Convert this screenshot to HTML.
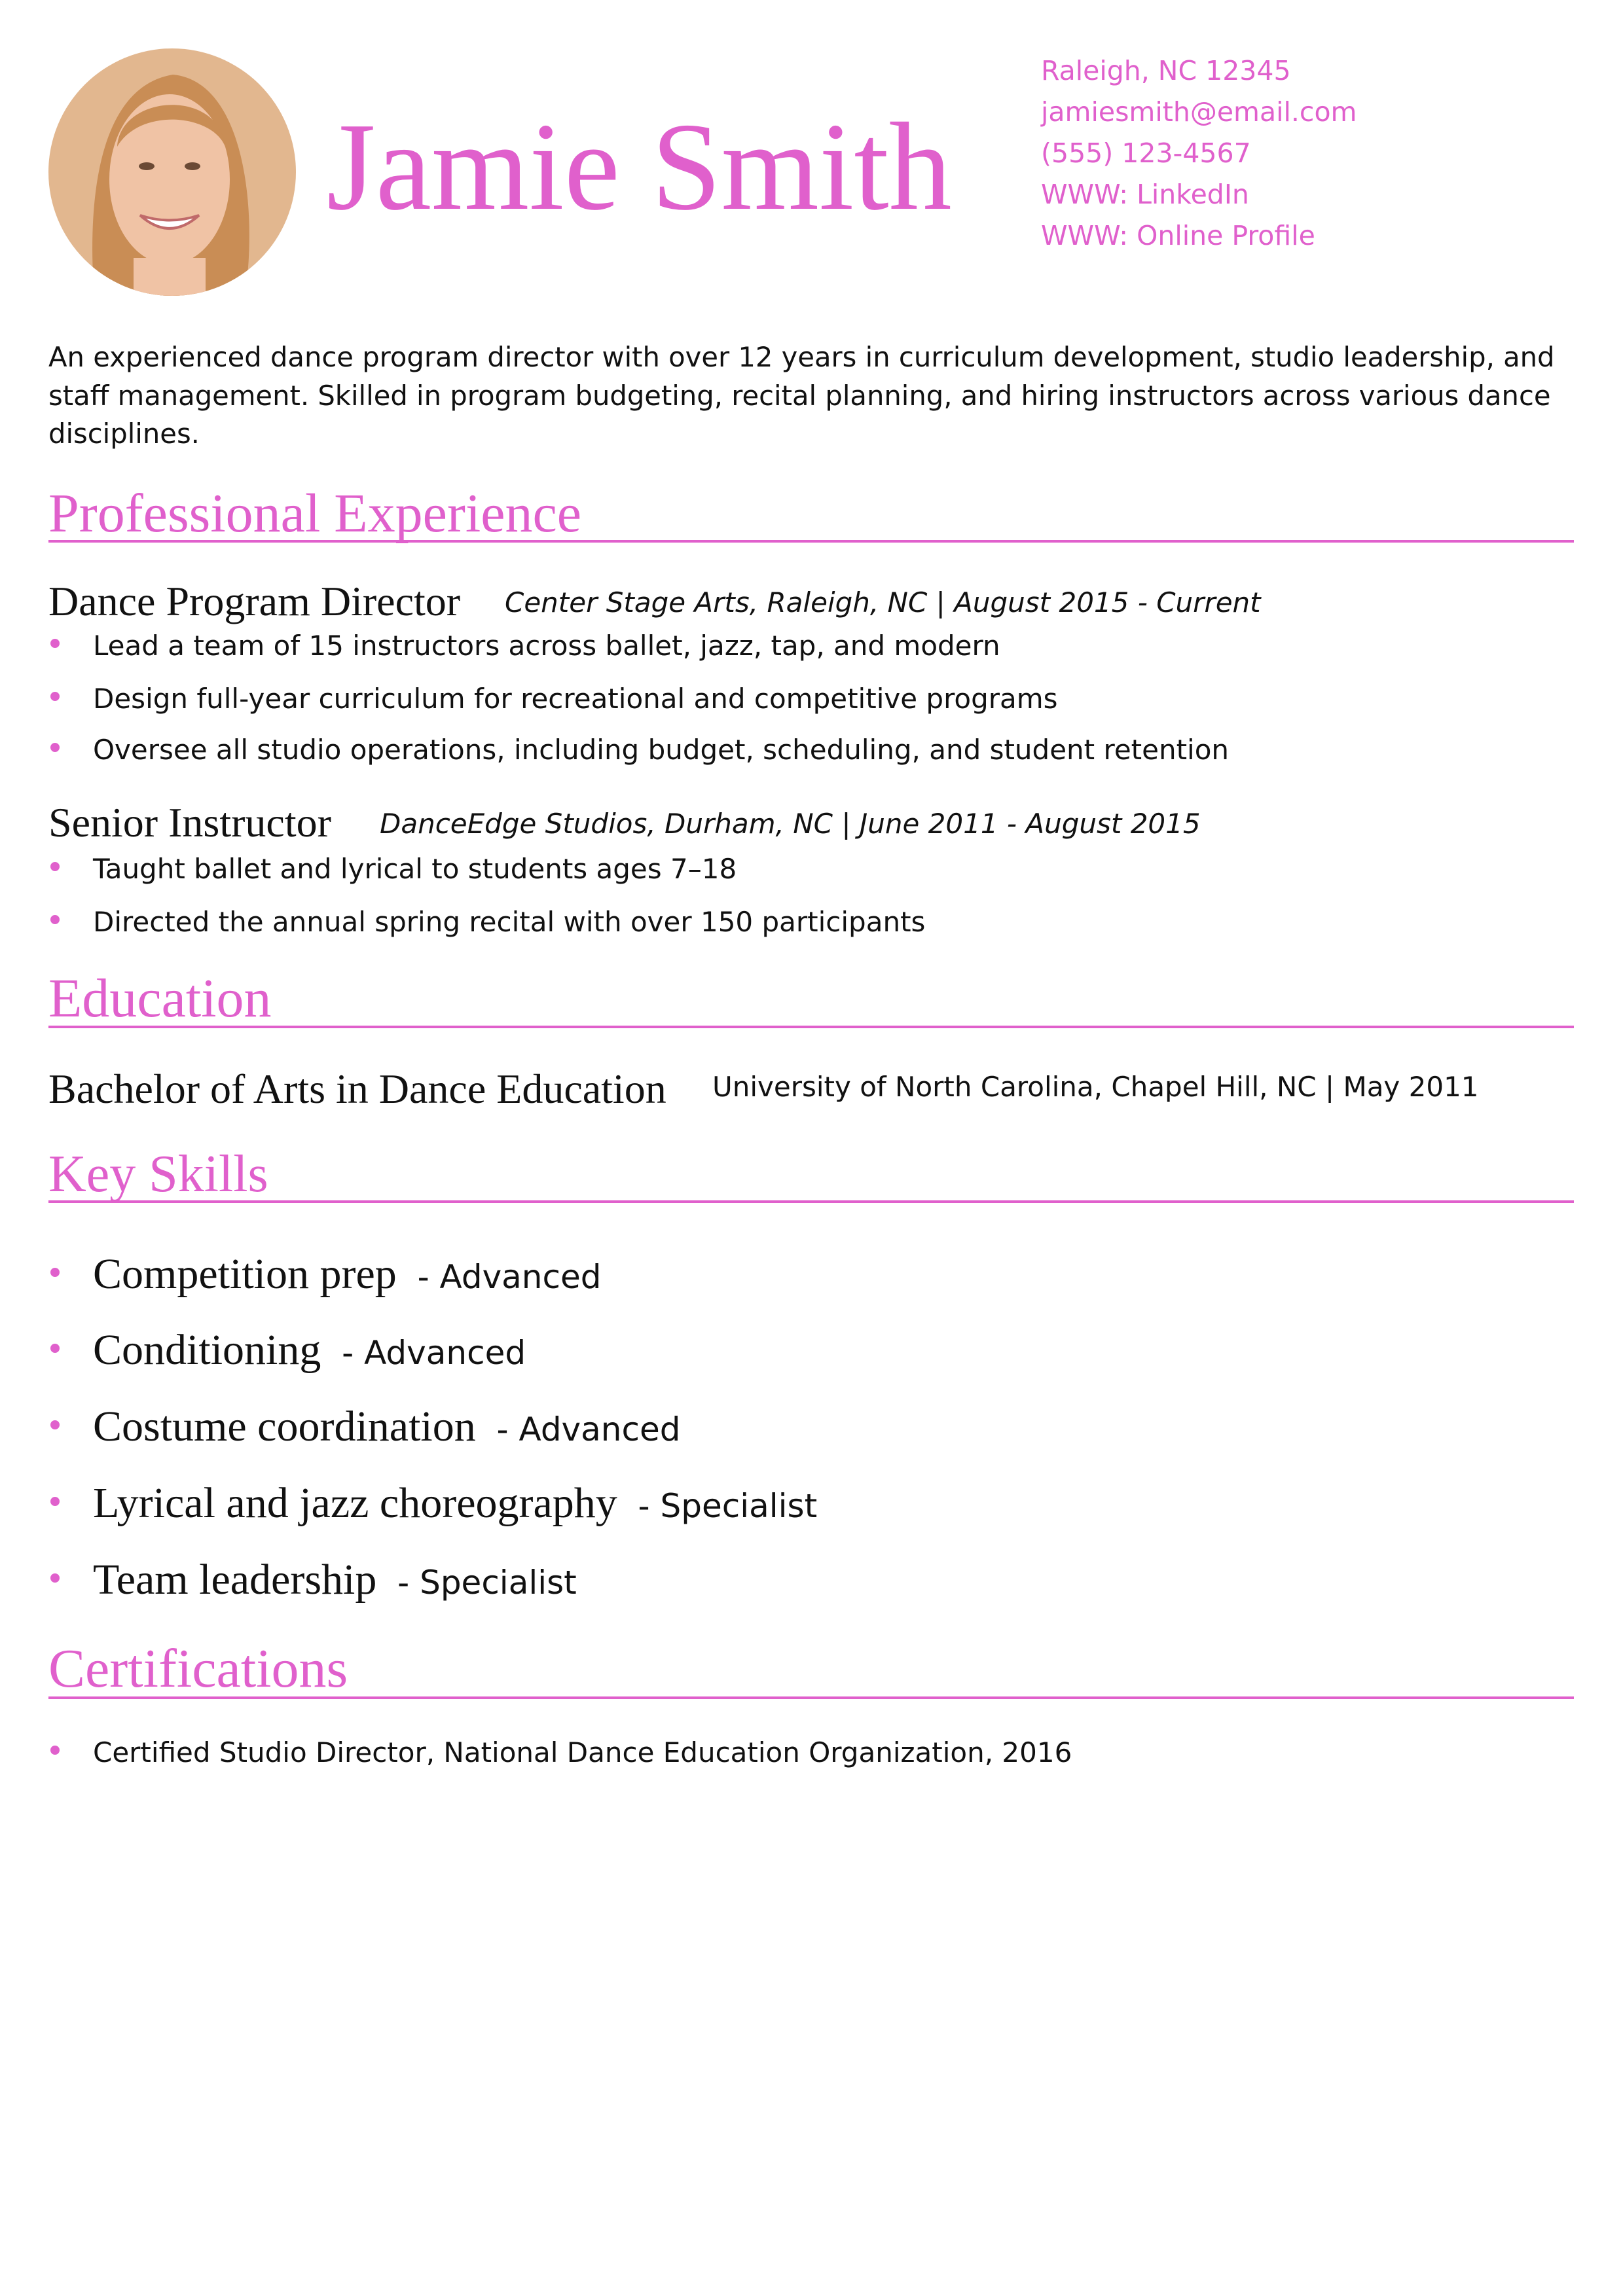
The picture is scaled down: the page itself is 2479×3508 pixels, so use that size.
<!DOCTYPE html>
<html><head><meta charset="utf-8"><style>
body{margin:0;width:2479px;height:3508px;background:#fff;position:relative;overflow:hidden}
div{position:absolute;white-space:nowrap}
.s{font-family:"DejaVu Sans","Liberation Sans",sans-serif;color:#111}
.f{font-family:"Liberation Serif",serif;color:#111}
.p{color:#e060cc}
.h{font-family:"Liberation Serif",serif;color:#e060cc;font-size:84px;left:74px;height:100px;line-height:100px}
.r{left:74px;width:2338px;height:4px;background:#e060cc}
.d{width:14px;height:14px;border-radius:50%;background:#e060cc;left:77px}
.b{left:142px;font-size:42px;height:60px;line-height:60px}
.c{left:1596px;font-size:41px;height:60px;line-height:60px}
</style></head><body>
<svg style="position:absolute;left:74px;top:74px" width="378" height="378">
<defs><clipPath id="cc"><circle cx="189" cy="189" r="189"/></clipPath></defs>
<g clip-path="url(#cc)">
<rect width="378" height="378" fill="#e2b78f"/>
<path d="M70 378 C60 250 70 60 190 40 C300 50 320 250 300 378Z" fill="#c98d55"/>
<ellipse cx="185" cy="200" rx="92" ry="130" fill="#f0c3a5"/>
<path d="M105 150 C110 70 260 60 270 150 C250 100 140 90 105 150Z" fill="#c98d55"/>
<ellipse cx="150" cy="180" rx="12" ry="6" fill="#6b4a35"/>
<ellipse cx="220" cy="180" rx="12" ry="6" fill="#6b4a35"/>
<path d="M140 255 Q185 295 230 255 Q185 270 140 255Z" fill="#fff" stroke="#c06a6a" stroke-width="4"/>
<rect x="130" y="320" width="110" height="60" fill="#f0c3a5"/>
</g></svg>
<div class="p" style="left:499px;top:145px;font-family:'Liberation Serif',serif;font-size:192px;line-height:220px;height:220px">Jamie Smith</div>
<div class="s p c" style="top:78px;left:1590px">Raleigh, NC 12345</div>
<div class="s p c" style="top:141px;left:1590px">jamiesmith@email.com</div>
<div class="s p c" style="top:204px;left:1590px">(555) 123-4567</div>
<div class="s p c" style="top:267px;left:1590px">WWW: LinkedIn</div>
<div class="s p c" style="top:330px;left:1590px">WWW: Online Profile</div>

<div class="s" style="left:74px;top:517px;font-size:41.7px;line-height:58.5px">An experienced dance program director with over 12 years in curriculum development, studio leadership, and<br>staff management. Skilled in program budgeting, recital planning, and hiring instructors across various dance<br>disciplines.</div>

<div class="h" style="top:735px">Professional Experience</div>
<div class="r" style="top:825px;width:2330px"></div>
<div class="f" style="left:74px;top:882px;font-size:64px;line-height:74px">Dance Program Director</div>
<div class="s" style="left:771px;top:891px;font-size:42px;line-height:60px;font-style:italic">Center Stage Arts, Raleigh, NC | August 2015 - Current</div>
<div class="d" style="top:976px"></div><div class="s b" style="top:957px">Lead a team of 15 instructors across ballet, jazz, tap, and modern</div>
<div class="d" style="top:1057px"></div><div class="s b" style="top:1038px">Design full-year curriculum for recreational and competitive programs</div>
<div class="d" style="top:1135px"></div><div class="s b" style="top:1116px">Oversee all studio operations, including budget, scheduling, and student retention</div>
<div class="f" style="left:74px;top:1220px;font-size:64px;line-height:74px">Senior Instructor</div>
<div class="s" style="left:580px;top:1229px;font-size:42px;line-height:60px;font-style:italic">DanceEdge Studios, Durham, NC | June 2011 - August 2015</div>
<div class="d" style="top:1317px"></div><div class="s b" style="top:1298px">Taught ballet and lyrical to students ages 7–18</div>
<div class="d" style="top:1398px"></div><div class="s b" style="top:1379px">Directed the annual spring recital with over 150 participants</div>

<div class="h" style="top:1476px">Education</div>
<div class="r" style="top:1576px;top:1567px;width:2330px"></div>
<div class="f" style="left:74px;top:1627px;font-size:64px;line-height:74px">Bachelor of Arts in Dance Education</div>
<div class="s" style="left:1088px;top:1631px;font-size:42px;line-height:60px">University of North Carolina, Chapel Hill, NC | May 2011</div>

<div class="h" style="top:1744px;font-size:80px">Key Skills</div>
<div class="r" style="top:1834px;width:2330px"></div>
<div class="d" style="top:1937px"></div><div style="left:142px;top:1909px;line-height:76px"><span class="f" style="font-size:66px">Competition prep</span><span class="s" style="font-size:50px">&nbsp;&nbsp;- Advanced</span></div>
<div class="d" style="top:2053px"></div><div style="left:142px;top:2025px;line-height:76px"><span class="f" style="font-size:66px">Conditioning</span><span class="s" style="font-size:50px">&nbsp;&nbsp;- Advanced</span></div>
<div class="d" style="top:2170px"></div><div style="left:142px;top:2142px;line-height:76px"><span class="f" style="font-size:66px">Costume coordination</span><span class="s" style="font-size:50px">&nbsp;&nbsp;- Advanced</span></div>
<div class="d" style="top:2287px"></div><div style="left:142px;top:2259px;line-height:76px"><span class="f" style="font-size:66px">Lyrical and jazz choreography</span><span class="s" style="font-size:50px">&nbsp;&nbsp;- Specialist</span></div>
<div class="d" style="top:2404px"></div><div style="left:142px;top:2376px;line-height:76px"><span class="f" style="font-size:66px">Team leadership</span><span class="s" style="font-size:50px">&nbsp;&nbsp;- Specialist</span></div>

<div class="h" style="top:2500px">Certifications</div>
<div class="r" style="top:2592px;width:2330px"></div>
<div class="d" style="top:2667px"></div><div class="s b" style="top:2648px">Certified Studio Director, National Dance Education Organization, 2016</div>
</body></html>
